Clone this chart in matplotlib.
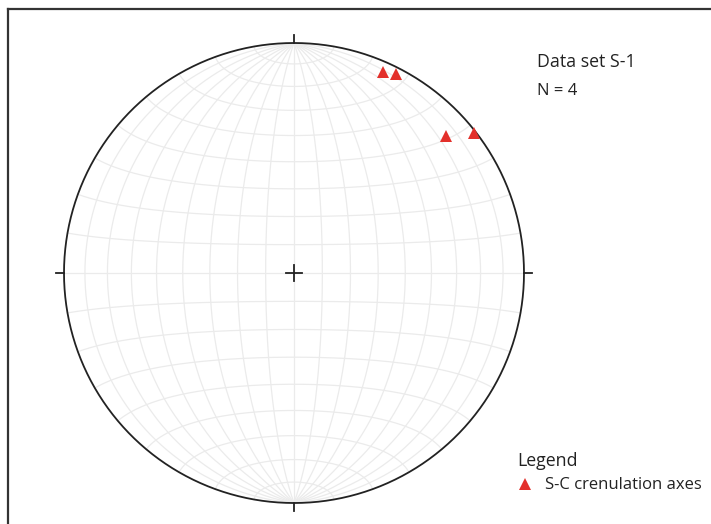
import numpy as np
import matplotlib
matplotlib.use("Agg")
import matplotlib.pyplot as plt
from matplotlib.lines import Line2D

# S-C crenulation axes (lower hemisphere, degrees)
trends = [24, 27, 48, 52]
plunges = [5, 3, 12, 1]

title_text = "Data set S-1"
count_text = f"N = {len(trends)}"
legend_title = "Legend"
legend_label = "S-C crenulation axes"

W, H = 711, 524
CX, CY, R = 294, 273, 230  # net centre and radius in pixels (from top-left)

plt.rcParams['font.family'] = ['Open Sans', 'DejaVu Sans']

fig = plt.figure(figsize=(W / 100, H / 100), dpi=100)
fig.patch.set_facecolor('white')
ax = fig.add_axes([0, 0, 1, 1])
ax.set_xlim(-CX / R, (W - CX) / R)
ax.set_ylim(-(H - CY) / R, CY / R)
ax.axis('off')


def project(x, y, z):
    """Lambert equal-area projection of lower-hemisphere unit vectors onto the unit circle."""
    s = 1.0 / np.sqrt(1.0 + z)
    return x * s, y * s


grid_kw = dict(color='#ebebeb', lw=0.9, zorder=1, solid_capstyle='butt')

# great circles (through N and S poles), every 10 degrees
phi = np.radians(np.linspace(-90, 90, 361))
for lam_deg in range(-80, 90, 10):
    lam = np.radians(lam_deg)
    xs = np.cos(phi) * np.sin(lam)
    ys = np.sin(phi)
    zs = np.cos(phi) * np.cos(lam)
    ax.plot(*project(xs, ys, zs), **grid_kw)

# small circles about the N-S axis, every 10 degrees
lam = np.radians(np.linspace(-90, 90, 361))
for phi_deg in range(-80, 90, 10):
    p = np.radians(phi_deg)
    xs = np.cos(p) * np.sin(lam)
    ys = np.full_like(lam, np.sin(p))
    zs = np.cos(p) * np.cos(lam)
    ax.plot(*project(xs, ys, zs), **grid_kw)

# primitive circle
t = np.linspace(0, 2 * np.pi, 721)
ax.plot(np.cos(t), np.sin(t), color='#222222', lw=1.3, zorder=3)

# cardinal ticks and centre cross
tk = 8 / R
for dx, dy in [(0, 1), (0, -1), (1, 0), (-1, 0)]:
    ax.plot([dx, dx * (1 + tk)], [dy, dy * (1 + tk)], color='#222222', lw=1.3, zorder=3)
c = 8 / R
ax.plot([-c, c], [0, 0], color='#222222', lw=1.3, zorder=3)
ax.plot([0, 0], [-c, c], color='#222222', lw=1.3, zorder=3)

# data
tr = np.radians(trends)
pl = np.radians(plunges)
px, py = project(np.cos(pl) * np.sin(tr), np.cos(pl) * np.cos(tr), np.sin(pl))
ax.plot(px, py, linestyle='none', marker='^', markersize=8.5,
        color='#e3302b', markeredgewidth=0, zorder=5)

# frame
fig.add_artist(Line2D([8 / W, 8 / W], [0, 1 - 9 / H], transform=fig.transFigure,
                      color='#333333', lw=1.6))
fig.add_artist(Line2D([8 / W, 1], [1 - 9 / H, 1 - 9 / H], transform=fig.transFigure,
                      color='#333333', lw=1.6))


def fx(px_):
    return px_ / W


def fy(py_):
    return 1 - py_ / H


txt_kw = dict(fontsize=12.8, color='#222222', va='baseline', ha='left')
fig.text(fx(537), fy(67), title_text, **txt_kw)
fig.text(fx(537), fy(95), count_text, **{**txt_kw, 'fontsize': 12})
fig.text(fx(517), fy(466), legend_title, **txt_kw)
fig.text(fx(545), fy(489), legend_label, **{**txt_kw, 'fontsize': 12})
fig.add_artist(Line2D([fx(525)], [fy(484)], transform=fig.transFigure, marker='^',
                      markersize=8.5, color='#e3302b', markeredgewidth=0, linestyle='none'))

fig.savefig('out.png', dpi=100, facecolor='white')
